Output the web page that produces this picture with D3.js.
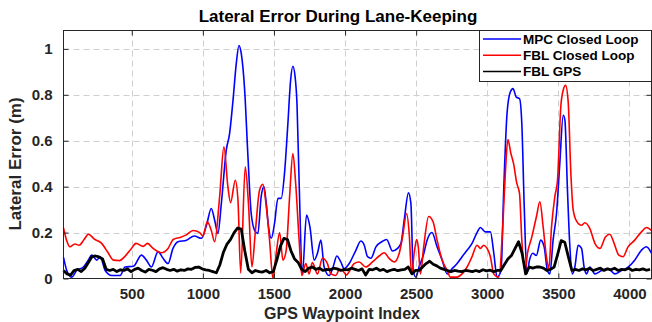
<!DOCTYPE html>
<html>
<head>
<meta charset="utf-8">
<script src="https://cdn.jsdelivr.net/npm/d3@7"></script>
<style>
  body { margin: 0; background: #fff; }
  svg { display: block; font-family: "Liberation Sans", Arial, Helvetica, sans-serif; }
</style>
</head>
<body>
<div id="chart"></div>
<script>
// waypoint index / lateral error (m)
const mpcIdx = [20,43,77,113,160,194,219,254,278,313,360,418,453,512,568,603,638,685,720,755,790,825,886,940,990,1027,1059,1083,1106,1130,1165,1188,1212,1235,1254,1270,1294,1317,1340,1364,1387,1410,1429,1446,1462,1481,1504,1528,1551,1574,1598,1617,1633,1649,1662,1677,1700,1729,1753,1783,1806,1830,1853,1888,1916,1942,1970,1994,2029,2076,2111,2135,2158,2182,2217,2259,2292,2334,2369,2393,2416,2446,2463,2479,2498,2520,2550,2577,2611,2647,2683,2718,2753,2788,2823,2858,2893,2928,2952,2987,3022,3046,3069,3097,3116,3139,3162,3181,3204,3227,3243,3260,3279,3297,3320,3345,3376,3400,3423,3440,3463,3487,3510,3534,3546,3564,3581,3598,3616,3639,3663,3681,3698,3721,3757,3804,3851,3897,3944,3990,4037,4084,4119,4155];
const mpcErr = [0.092,0.035,0.006,0.035,0.05,0.08,0.102,0.08,0.095,0.035,0.013,0.013,0.05,0.053,0.102,0.08,0.05,0.117,0.088,0.065,0.131,0.16,0.167,0.185,0.175,0.235,0.305,0.254,0.196,0.327,0.56,0.631,0.776,0.936,1.015,0.98,0.82,0.532,0.283,0.21,0.196,0.356,0.4,0.327,0.225,0.175,0.24,0.349,0.349,0.457,0.675,0.863,0.924,0.877,0.76,0.42,0.02,0.276,0.225,0.08,0.11,0.167,0.05,0.013,0.05,0.098,0.072,0.043,0.065,0.123,0.163,0.145,0.095,0.088,0.138,0.16,0.17,0.12,0.131,0.153,0.254,0.373,0.327,0.035,0.006,0.05,0.1,0.167,0.2,0.138,0.08,0.02,0.043,0.065,0.095,0.123,0.153,0.2,0.222,0.203,0.203,0.11,0.006,0.035,0.39,0.718,0.812,0.827,0.79,0.783,0.675,0.313,0.02,0.08,0.11,0.1,0.167,0.138,0.035,0.02,0.167,0.283,0.5,0.711,0.69,0.385,0.138,0.02,0.05,0.145,0.131,0.05,0.02,0.05,0.02,0.035,0.043,0.02,0.035,0.05,0.08,0.123,0.138,0.11];

const fblIdx = [20,45,65,100,130,165,195,240,285,333,371,415,450,498,530,580,611,650,708,755,792,840,884,931,978,1001,1031,1059,1083,1118,1148,1176,1195,1228,1247,1266,1298,1322,1345,1368,1399,1422,1446,1469,1493,1516,1540,1563,1586,1610,1633,1652,1677,1696,1724,1747,1770,1806,1841,1876,1900,1935,1960,1982,2010,2029,2064,2099,2146,2193,2240,2275,2310,2346,2381,2404,2433,2451,2468,2486,2503,2515,2530,2553,2588,2619,2647,2683,2718,2741,2788,2823,2858,2893,2928,2952,2975,2999,3022,3046,3081,3110,3127,3145,3166,3185,3208,3227,3243,3267,3283,3313,3346,3370,3393,3416,3433,3452,3475,3494,3517,3534,3551,3569,3588,3604,3628,3663,3686,3721,3757,3792,3831,3862,3892,3925,3955,3990,4037,4084,4119,4155];
const fblErr = [0.22,0.16,0.138,0.15,0.145,0.17,0.193,0.17,0.155,0.113,0.08,0.078,0.095,0.131,0.153,0.14,0.153,0.131,0.112,0.131,0.17,0.179,0.19,0.209,0.2,0.185,0.247,0.21,0.16,0.356,0.573,0.4,0.33,0.428,0.34,0.024,0.486,0.313,0.05,0.196,0.385,0.41,0.313,0.167,0.0,0.11,0.2,0.08,0.123,0.356,0.544,0.42,0.167,0.013,0.065,0.02,0.07,0.02,0.088,0.065,0.02,0.013,0.04,0.035,0.015,0.03,0.065,0.072,0.05,0.072,0.098,0.112,0.088,0.072,0.11,0.18,0.283,0.196,0.02,0.11,0.17,0.138,0.02,0.138,0.27,0.247,0.167,0.08,0.035,0.006,0.006,0.02,0.05,0.095,0.145,0.131,0.145,0.131,0.095,0.02,0.006,0.24,0.457,0.605,0.545,0.5,0.414,0.37,0.167,0.035,0.11,0.18,0.27,0.334,0.225,0.095,0.043,0.225,0.356,0.428,0.747,0.82,0.841,0.77,0.457,0.3,0.25,0.232,0.243,0.218,0.153,0.131,0.181,0.193,0.153,0.102,0.095,0.138,0.167,0.203,0.222,0.21];

// GPS run sampled every 25 waypoints starting at 20
const gpsStart = 20, gpsStep = 25;
const gpsErr = [0.035,0.02,0.015,0.035,0.04,0.03,0.045,0.07,0.095,0.098,0.094,0.085,0.04,0.035,0.04,0.03,0.038,0.035,0.042,0.03,0.04,0.045,0.035,0.028,0.04,0.036,0.03,0.042,0.047,0.04,0.035,0.04,0.032,0.038,0.035,0.042,0.04,0.048,0.05,0.042,0.038,0.035,0.03,0.025,0.06,0.115,0.15,0.17,0.2,0.22,0.215,0.12,0.04,0.025,0.035,0.03,0.028,0.035,0.025,0.03,0.08,0.14,0.175,0.17,0.12,0.085,0.07,0.04,0.03,0.045,0.05,0.04,0.045,0.035,0.04,0.038,0.045,0.042,0.035,0.04,0.038,0.045,0.04,0.035,0.042,0.015,0.04,0.038,0.045,0.035,0.04,0.03,0.036,0.04,0.034,0.038,0.04,0.05,0.02,0.035,0.035,0.05,0.065,0.075,0.062,0.055,0.045,0.04,0.035,0.03,0.035,0.032,0.03,0.035,0.033,0.03,0.035,0.03,0.038,0.033,0.036,0.03,0.035,0.035,0.06,0.085,0.1,0.13,0.16,0.11,0.02,0.05,0.045,0.05,0.05,0.045,0.035,0.04,0.05,0.105,0.165,0.158,0.095,0.035,0.04,0.035,0.042,0.038,0.044,0.035,0.04,0.045,0.035,0.042,0.038,0.045,0.035,0.04,0.038,0.045,0.035,0.04,0.038,0.042,0.036,0.04];

const xTicks = [500,1000,1500,2000,2500,3000,3500,4000];
const yTicks = [0,0.2,0.4,0.6,0.8,1];
const seriesNames = ['MPC Closed Loop','FBL Closed Loop','FBL GPS'];
const seriesColors = ['#0000ff','#ff0000','#000000'];

const W = 652, H = 322;
const plotLeft = 63.5, plotRight = 651.5, plotTop = 30.5, plotBottom = 278.5;

const svg = d3.select('#chart').append('svg')
  .attr('width', W)
  .attr('height', H);

const x = d3.scaleLinear().domain([20, 4155]).range([plotLeft, plotRight]);
const y = d3.scaleLinear().domain([0, 1.08]).range([plotBottom, plotTop]);

// grid
const grid = svg.append('g').attr('stroke', '#cfcfcf').attr('stroke-dasharray', '6,4').attr('stroke-width', 1);
grid.selectAll('.gx').data(xTicks).enter().append('line')
  .attr('x1', d => Math.round(x(d)) + 0.5).attr('x2', d => Math.round(x(d)) + 0.5)
  .attr('y1', plotTop).attr('y2', plotBottom);
grid.selectAll('.gy').data(yTicks.filter(d => d > 0)).enter().append('line')
  .attr('y1', d => Math.round(y(d)) + 0.5).attr('y2', d => Math.round(y(d)) + 0.5)
  .attr('x1', plotLeft).attr('x2', plotRight);

// series
const line = d3.line().x(d => x(d[0])).y(d => y(d[1]));
const mpc = mpcIdx.map((v, i) => [v, mpcErr[i]]);
const fbl = fblIdx.map((v, i) => [v, fblErr[i]]);
const gps = gpsErr.map((v, i) => [gpsStart + i * gpsStep, v]);

svg.append('path').datum(mpc)
  .attr('fill', 'none').attr('stroke', seriesColors[0]).attr('stroke-width', 1.6)
  .attr('d', line.curve(d3.curveMonotoneX));
svg.append('path').datum(fbl)
  .attr('fill', 'none').attr('stroke', seriesColors[1]).attr('stroke-width', 1.6)
  .attr('d', line.curve(d3.curveMonotoneX));
svg.append('path').datum(gps)
  .attr('fill', 'none').attr('stroke', seriesColors[2]).attr('stroke-width', 2.8)
  .attr('stroke-linejoin', 'round')
  .attr('d', line.curve(d3.curveLinear));

// axes
const fontSize = '15px';
const xAxis = svg.append('g').attr('transform', `translate(0,${plotBottom})`)
  .call(d3.axisBottom(x).tickValues(xTicks).tickSizeInner(-5).tickSizeOuter(0).tickPadding(10).tickFormat(d3.format('d')));
const xTop = svg.append('g').attr('transform', `translate(0,${plotTop})`)
  .call(d3.axisTop(x).tickValues(xTicks).tickSizeInner(-5).tickSizeOuter(0).tickFormat(''));
const yAxis = svg.append('g').attr('transform', `translate(${plotLeft},0)`)
  .call(d3.axisLeft(y).tickValues(yTicks).tickSizeInner(-5).tickSizeOuter(0).tickPadding(11).tickFormat(d3.format('')));
const yRight = svg.append('g').attr('transform', `translate(${plotRight},0)`)
  .call(d3.axisRight(y).tickValues(yTicks).tickSizeInner(-5).tickSizeOuter(0).tickFormat(''));

[xAxis, xTop, yAxis, yRight].forEach(g => {
  g.select('.domain').remove();
  g.selectAll('line').attr('stroke', '#262626');
  g.selectAll('text').attr('fill', '#262626')
    .style('font-size', fontSize).style('font-weight', 'bold')
    .style('font-family', '"Liberation Sans", Arial, sans-serif');
});

svg.append('rect')
  .attr('x', plotLeft).attr('y', plotTop)
  .attr('width', plotRight - plotLeft).attr('height', plotBottom - plotTop)
  .attr('fill', 'none').attr('stroke', '#262626').attr('stroke-width', 1);

// labels
svg.append('text')
  .attr('x', 338).attr('y', 22)
  .attr('text-anchor', 'middle')
  .style('font-size', '17px').style('font-weight', 'bold')
  .attr('fill', '#000')
  .text('Lateral Error During Lane-Keeping');

svg.append('text')
  .attr('x', 342).attr('y', 319)
  .attr('text-anchor', 'middle')
  .style('font-size', '16px').style('font-weight', 'bold')
  .attr('fill', '#262626')
  .text('GPS Waypoint Index');

svg.append('text')
  .attr('transform', 'translate(21,164) rotate(-90)')
  .attr('text-anchor', 'middle')
  .style('font-size', '17px').style('font-weight', 'bold')
  .attr('fill', '#262626')
  .text('Lateral Error (m)');

// legend
const legend = svg.append('g');
legend.append('rect')
  .attr('x', 479.5).attr('y', 30.5).attr('width', 172).attr('height', 51)
  .attr('fill', '#fff').attr('stroke', '#262626').attr('stroke-width', 1);
const rows = legend.selectAll('.row').data(seriesNames).enter().append('g')
  .attr('transform', (d, i) => `translate(0,${39 + i * 16.3})`);
rows.append('line')
  .attr('x1', 483).attr('x2', 521).attr('y1', 0).attr('y2', 0)
  .attr('stroke', (d, i) => seriesColors[i]).attr('stroke-width', 1.5);
rows.append('text')
  .attr('x', 523).attr('y', 0).attr('dy', '0.35em')
  .style('font-size', '13.5px').style('font-weight', 'bold')
  .attr('fill', '#000')
  .text(d => d);
</script>
</body>
</html>
